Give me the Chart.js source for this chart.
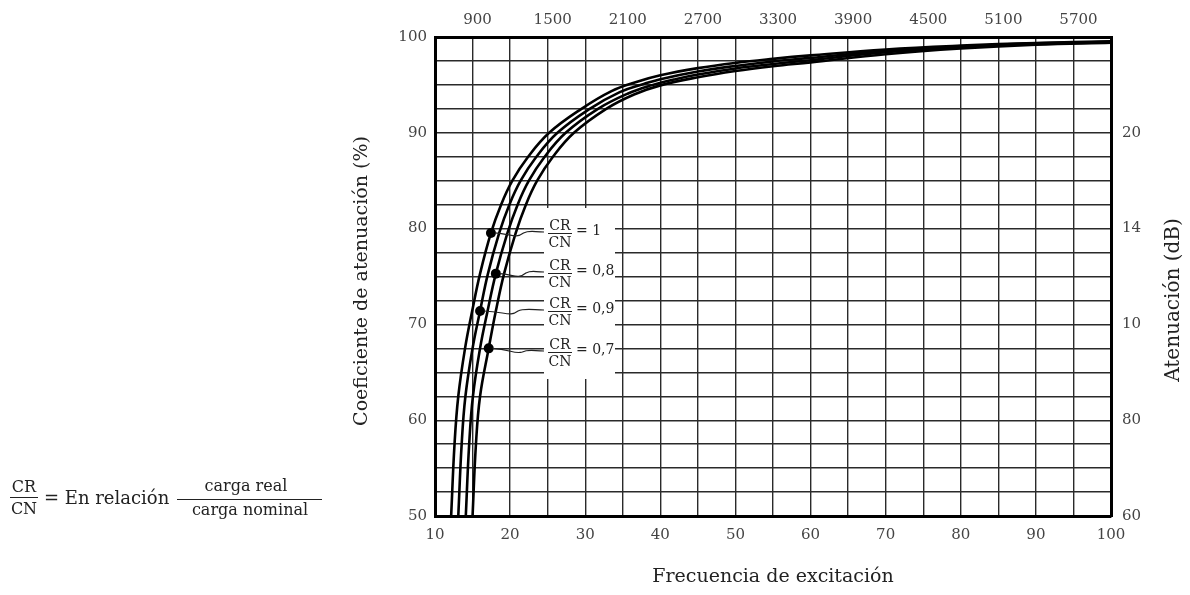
<!DOCTYPE html>
<html>
<head>
<meta charset="utf-8">
<script src="https://cdn.jsdelivr.net/npm/chart.js@4/dist/chart.umd.min.js"></script>
<style>
  html, body { margin: 0; padding: 0; background: #fff; }
</style>
</head>
<body>
<canvas id="myChart" width="1190" height="595"></canvas>
<script>
// values: [frecuencia, coeficiente %]
const curveOne = [[12.15, 50], [12.6, 57.5], [13.1, 62.5], [14.0, 67.5], [14.95, 71.4], [16.0, 75.3], [17.45, 79.55], [18.8, 82.5], [20.3, 85], [22.4, 87.5], [25.2, 90], [29.5, 92.5], [33.5, 94.35], [36.8, 95.3], [40, 96.0], [45, 96.75], [50, 97.3], [55, 97.72], [60, 98.08], [70, 98.7], [80, 99.1], [90, 99.38], [100, 99.55]];
const curveNine = [[13.1, 50], [13.55, 57.5], [14.05, 62.5], [15.0, 67.5], [16.0, 71.4], [17.05, 75.3], [18.55, 79.55], [19.9, 82.5], [21.4, 85], [23.5, 87.5], [26.3, 90], [30.6, 92.5], [34.6, 94.25], [37.8, 95.1], [40, 95.6], [45, 96.4], [50, 96.98], [55, 97.45], [60, 97.82], [70, 98.55], [80, 99.0], [90, 99.33], [100, 99.5]];
const curveEight = [[14.1, 50], [14.55, 57.5], [15.05, 62.5], [16.0, 67.5], [17.0, 71.4], [18.1, 75.3], [19.65, 79.55], [21.0, 82.5], [22.5, 85], [24.6, 87.5], [27.4, 90], [31.7, 92.5], [35.7, 94.1], [38.8, 94.95], [42, 95.6], [45, 96.08], [50, 96.72], [55, 97.18], [60, 97.58], [70, 98.4], [80, 98.9], [90, 99.28], [100, 99.45]];
const curveSeven = [[15.0, 50], [15.45, 57.5], [16.0, 62.5], [17.15, 67.5], [18.1, 71.4], [19.2, 75.3], [20.75, 79.55], [22.1, 82.5], [23.6, 85], [25.7, 87.5], [28.5, 90], [32.8, 92.5], [36.5, 94.0], [40, 94.95], [45, 95.8], [50, 96.45], [55, 96.95], [60, 97.35], [70, 98.2], [80, 98.8], [90, 99.2], [100, 99.4]];

// CR/CN value of each curve and the point where its marker dot sits
const ratioLabels = ['1', '0,9', '0,8', '0,7'];
const markerPoints = [[17.45, 79.55], [16.0, 71.4], [18.1, 75.3], [17.15, 67.5]];

// tick labels
const bottomTicks = [10, 20, 30, 40, 50, 60, 70, 80, 90, 100];
const leftTicks = [50, 60, 70, 80, 90, 100];
const topTicks = [900, 1500, 2100, 2700, 3300, 3900, 4500, 5100, 5700];
const rightTickValues = [50, 60, 70, 80, 90];
const rightTickLabels = ['60', '80', '10', '14', '20'];

const FONT = "'DejaVu Serif', 'Liberation Serif', serif";

function toPoints(list) {
  return list.map((p) => ({ x: p[0], y: p[1] }));
}

function isMarker(curveIdx, pt) {
  const m = markerPoints[curveIdx];
  return pt && pt.x === m[0] && pt.y === m[1];
}

const curves = [curveOne, curveNine, curveEight, curveSeven];
const datasets = curves.map((c, i) => ({
  label: 'CR/CN = ' + ratioLabels[i],
  data: toPoints(c),
  borderColor: '#000',
  backgroundColor: '#000',
  borderWidth: 2.6,
  tension: 0.4,
  pointRadius: (ctx) => isMarker(i, ctx.raw) ? 5 : 0,
  pointBorderWidth: 0,
  pointHoverRadius: 0,
  xAxisID: 'x',
  yAxisID: 'y'
}));

// labels with fractions, leader lines, white box, titles and the left formula
const annotations = {
  id: 'annotations',
  beforeDatasetsDraw(chart) {
    const ctx = chart.ctx;
    ctx.save();
    ctx.fillStyle = '#fff';
    ctx.fillRect(544, 208, 71, 171);
    ctx.restore();
  },
  afterDraw(chart) {
    const ctx = chart.ctx;
    const xs = chart.scales.x;
    const ys = chart.scales.y;
    ctx.save();
    ctx.fillStyle = '#222';
    ctx.strokeStyle = '#222';

    // labels, top to bottom
    const rows = [[0, 233], [2, 273], [1, 311], [3, 352]];
    const lx = 548;
    rows.forEach((r) => {
      const idx = r[0];
      const barY = r[1];
      const dx = xs.getPixelForValue(markerPoints[idx][0]);
      const dy = ys.getPixelForValue(markerPoints[idx][1]);
      // wavy leader line
      ctx.lineWidth = 1.2;
      ctx.beginPath();
      ctx.moveTo(dx + 4, dy);
      const ex = lx - 4;
      const mid = dx + (ex - dx) * 0.5;
      ctx.bezierCurveTo(mid - 6, dy + 1, mid - 2, dy + 6, mid + 6, barY);
      ctx.bezierCurveTo(mid + 12, barY - 3, ex - 10, barY - 1, ex, barY - 1);
      ctx.stroke();
      // fraction
      ctx.font = '14px ' + FONT;
      ctx.textAlign = 'center';
      ctx.textBaseline = 'alphabetic';
      ctx.fillText('CR', lx + 12, barY - 3);
      ctx.fillText('CN', lx + 12, barY + 14);
      ctx.lineWidth = 1;
      ctx.beginPath();
      ctx.moveTo(lx, barY + 0.5);
      ctx.lineTo(lx + 24, barY + 0.5);
      ctx.stroke();
      ctx.textAlign = 'left';
      ctx.textBaseline = 'middle';
      ctx.fillText('= ' + ratioLabels[idx], lx + 28, barY - 2);
    });

    // axis titles
    ctx.font = '19px ' + FONT;
    ctx.textAlign = 'center';
    ctx.textBaseline = 'middle';
    ctx.fillText('Frecuencia de excitación', 773, 577);
    ctx.save();
    ctx.translate(362, 281);
    ctx.rotate(-Math.PI / 2);
    ctx.fillText('Coeficiente de atenuación (%)', 0, 0);
    ctx.restore();
    ctx.save();
    ctx.font = '20px ' + FONT;
    ctx.translate(1174, 300);
    ctx.rotate(-Math.PI / 2);
    ctx.fillText('Atenuación (dB)', 0, 0);
    ctx.restore();

    // formula on the left
    ctx.font = '16px ' + FONT;
    ctx.textBaseline = 'alphabetic';
    ctx.textAlign = 'center';
    ctx.fillText('CR', 24, 492);
    ctx.fillText('CN', 24, 514);
    ctx.fillText('carga real', 246, 491);
    ctx.fillText('carga nominal', 250, 515);
    ctx.lineWidth = 1;
    ctx.beginPath();
    ctx.moveTo(10, 497.5);
    ctx.lineTo(38, 497.5);
    ctx.moveTo(177, 499.5);
    ctx.lineTo(322, 499.5);
    ctx.stroke();
    ctx.font = '18px ' + FONT;
    ctx.textAlign = 'left';
    ctx.textBaseline = 'middle';
    ctx.fillText('= En relación', 44, 499);
    ctx.restore();
  }
};

const tickFont = { family: FONT, size: 15 };
const frame = { display: true, color: '#000', width: 3 };

const config = {
  type: 'line',
  data: { datasets: datasets },
  options: {
    responsive: false,
    animation: false,
    events: [],
    layout: { padding: 0 },
    plugins: { legend: { display: false }, tooltip: { enabled: false } },
    scales: {
      x: {
        type: 'linear',
        position: 'bottom',
        min: 10,
        max: 100,
        afterFit: (s) => { s.height = 79; },
        ticks: {
          stepSize: 5,
          padding: 10,
          color: '#444',
          font: tickFont,
          maxRotation: 0,
          autoSkip: false,
          callback: (v) => bottomTicks.includes(v) ? String(v) : ''
        },
        grid: { color: '#2a2a2a', lineWidth: 1.4, drawTicks: false },
        border: frame
      },
      x2: {
        type: 'linear',
        position: 'top',
        min: 560,
        max: 5960,
        afterFit: (s) => { s.height = 37; },
        afterBuildTicks: (s) => { s.ticks = topTicks.map((v) => ({ value: v })); },
        ticks: {
          padding: 8,
          color: '#444',
          font: tickFont,
          maxRotation: 0,
          autoSkip: false,
          callback: (v) => String(v)
        },
        grid: { display: false, drawTicks: false },
        border: frame
      },
      y: {
        type: 'linear',
        position: 'left',
        min: 50,
        max: 100,
        afterFit: (s) => { s.width = 435; },
        ticks: {
          stepSize: 2.5,
          padding: 8,
          color: '#444',
          font: tickFont,
          autoSkip: false,
          callback: (v) => leftTicks.includes(v) ? String(v) : ''
        },
        grid: { color: '#2a2a2a', lineWidth: 1.4, drawTicks: false },
        border: frame
      },
      y2: {
        type: 'linear',
        position: 'right',
        min: 50,
        max: 100,
        afterFit: (s) => { s.width = 79; },
        afterBuildTicks: (s) => { s.ticks = rightTickValues.map((v) => ({ value: v })); },
        ticks: {
          padding: 11,
          color: '#444',
          font: tickFont,
          autoSkip: false,
          callback: (v) => rightTickLabels[rightTickValues.indexOf(v)]
        },
        grid: { display: false, drawTicks: false },
        border: frame
      }
    }
  },
  plugins: [annotations]
};

const myChart = new Chart(document.getElementById('myChart'), config);
</script>
</body>
</html>
